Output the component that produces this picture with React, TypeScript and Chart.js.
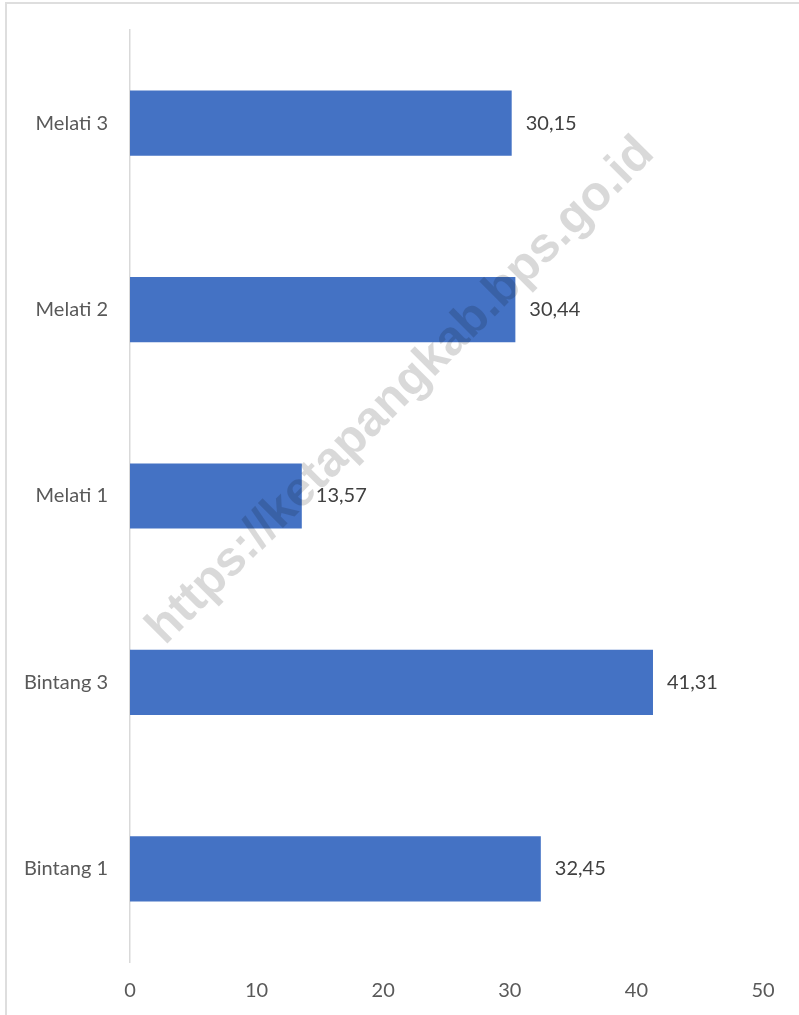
import React, { useEffect, useRef } from "react";
import { Chart, registerables } from "chart.js";

Chart.register(...registerables);

const categories = ["Melati 3", "Melati 2", "Melati 1", "Bintang 3", "Bintang 1"];
const values = [30.15, 30.44, 13.57, 41.31, 32.45];
const xMin = 0;
const xMax = 50;
const xStep = 10;
const watermark = "https://ketapangkab.bps.go.id";

const FONT = "Lato, 'Open Sans', sans-serif";

export default function App() {
  const ref = useRef<HTMLCanvasElement | null>(null);

  useEffect(() => {
    if (!ref.current) return;

    const dataLabels = {
      id: "dataLabels",
      afterDatasetsDraw(chart: any) {
        const ctx = chart.ctx;
        const meta = chart.getDatasetMeta(0);
        ctx.save();
        ctx.font = `20px ${FONT}`;
        ctx.fillStyle = "#404040";
        ctx.textAlign = "left";
        ctx.textBaseline = "middle";
        meta.data.forEach((bar: any, i: number) => {
          const txt = values[i].toFixed(2).replace(".", ",");
          ctx.fillText(txt, bar.x + 14, bar.y);
        });
        ctx.restore();
      },
    };

    const wm = {
      id: "watermark",
      afterDraw(chart: any) {
        const ctx = chart.ctx;
        ctx.save();
        ctx.translate(401, 391);
        ctx.rotate(-Math.PI / 4);
        ctx.font = "bold 49px 'Liberation Sans', Arial, sans-serif";
        ctx.fillStyle = "rgba(0,0,0,0.15)";
        ctx.textAlign = "center";
        ctx.textBaseline = "middle";
        ctx.fillText(watermark, 0, 0);
        ctx.restore();
      },
    };

    const chart = new Chart(ref.current, {
      type: "bar",
      data: {
        labels: categories,
        datasets: [
          {
            data: values,
            backgroundColor: "#4472C4",
            borderWidth: 0,
            barPercentage: 0.35,
            categoryPercentage: 1,
          },
        ],
      },
      options: {
        indexAxis: "y",
        animation: false,
        responsive: false,
        maintainAspectRatio: false,
        layout: { padding: { top: 30, right: 36, bottom: 0, left: 0 } },
        plugins: {
          legend: { display: false },
          tooltip: { enabled: false },
        },
        scales: {
          x: {
            min: xMin,
            max: xMax,
            grid: { display: false, drawTicks: false },
            border: { display: false },
            ticks: {
              stepSize: xStep,
              padding: 17,
              color: "#595959",
              font: { family: FONT, size: 20 },
            },
            afterFit(scale: any) {
              scale.height = 53;
              scale.paddingLeft = 0;
              scale.paddingRight = 0;
            },
          },
          y: {
            grid: { display: false, drawTicks: false },
            border: { display: true, color: "#d9d9d9", width: 1.5 },
            ticks: {
              padding: 22,
              color: "#595959",
              font: { family: FONT, size: 20 },
            },
            afterFit(scale: any) {
              scale.width = 130;
              scale.paddingTop = 0;
              scale.paddingBottom = 0;
            },
          },
        },
      },
      plugins: [dataLabels, wm],
    });

    return () => chart.destroy();
  }, []);

  return (
    <div style={{ position: "absolute", left: 0, top: 0, width: 799, height: 1015, overflow: "hidden", background: "#fff" }}>
      <canvas ref={ref} width={799} height={1015} style={{ position: "absolute", left: 0, top: 0 }} />
      <div
        style={{
          position: "absolute",
          left: 5,
          top: 2,
          width: 820,
          height: 1040,
          borderLeft: "2px solid #dedede",
          borderTop: "2px solid #dedede",
          pointerEvents: "none",
        }}
      />
    </div>
  );
}
